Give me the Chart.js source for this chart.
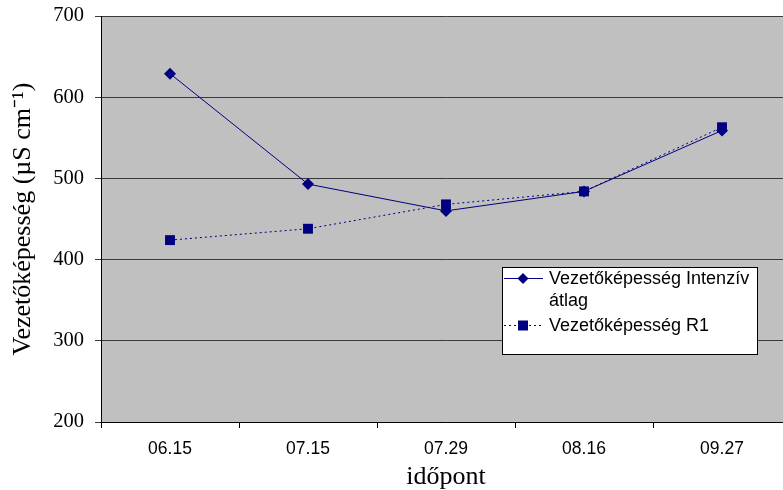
<!DOCTYPE html>
<html>
<head>
<meta charset="utf-8">
<script src="https://cdn.jsdelivr.net/npm/chart.js@4/dist/chart.umd.min.js"></script>
<style>
html,body{margin:0;padding:0;background:#fff;overflow:hidden;width:783px;height:490px;}
canvas{display:block;}
</style>
</head>
<body>
<canvas id="c" width="800" height="490"></canvas>
<script>
const categories = ['06.15', '07.15', '07.29', '08.16', '09.27'];
const intenzivAtlag = [629, 493, 460, 484, 559];
const r1 = [424, 438, 468, 484, 563];
const seriesNames = ['Vezetőképesség Intenzív átlag', 'Vezetőképesség R1'];
const yTitle = 'Vezetőképesség (µS cm⁻¹)';
const xTitle = 'időpont';

const NAVY = '#000080';

const plotBg = {
  id: 'plotBg',
  beforeDraw(chart) {
    const {ctx, chartArea: a} = chart;
    ctx.save();
    ctx.fillStyle = '#C0C0C0';
    ctx.fillRect(a.left, a.top, a.right - a.left, a.bottom - a.top);
    ctx.restore();
  }
};

function drawMarker(ctx, style, x, y) {
  ctx.fillStyle = NAVY;
  ctx.beginPath();
  if (style === 'diamond') {
    ctx.moveTo(x, y - 5.5); ctx.lineTo(x + 5.5, y); ctx.lineTo(x, y + 5.5); ctx.lineTo(x - 5.5, y);
    ctx.closePath();
  } else {
    ctx.rect(x - 5, y - 5, 10, 10);
  }
  ctx.fill();
}

const insideLegend = {
  id: 'insideLegend',
  afterDraw(chart) {
    const ctx = chart.ctx;
    ctx.save();
    const bx = 502.5, by = 267.5, bw = 255, bh = 87;
    ctx.fillStyle = '#fff';
    ctx.fillRect(bx, by, bw, bh);
    ctx.strokeStyle = '#000';
    ctx.lineWidth = 1;
    ctx.strokeRect(bx, by, bw, bh);
    ctx.font = '18px "Liberation Sans", Arial, sans-serif';
    ctx.textBaseline = 'middle';
    ctx.fillStyle = '#000';
    ctx.strokeStyle = NAVY;
    ctx.setLineDash([]);
    ctx.beginPath(); ctx.moveTo(504, 278.5); ctx.lineTo(543, 278.5); ctx.stroke();
    drawMarker(ctx, 'diamond', 523, 278.5);
    ctx.fillStyle = '#000';
    ctx.fillText('Vezetőképesség Intenzív', 549, 279);
    ctx.fillText('átlag', 549, 301);
    ctx.strokeStyle = NAVY;
    ctx.setLineDash([2, 3]);
    ctx.beginPath(); ctx.moveTo(504, 325.5); ctx.lineTo(543, 325.5); ctx.stroke();
    ctx.setLineDash([]);
    drawMarker(ctx, 'square', 523, 325.5);
    ctx.fillStyle = '#000';
    ctx.fillText('Vezetőképesség R1', 549, 326);
    ctx.restore();
  }
};

new Chart(document.getElementById('c'), {
  type: 'line',
  data: {
    labels: categories,
    datasets: [
      {
        label: seriesNames[0],
        data: intenzivAtlag,
        borderColor: NAVY,
        backgroundColor: NAVY,
        borderWidth: 1,
        pointStyle: 'rectRot',
        pointRadius: 6,
        pointHoverRadius: 6,
        pointBorderWidth: 0,
        tension: 0
      },
      {
        label: seriesNames[1],
        data: r1,
        borderColor: NAVY,
        backgroundColor: NAVY,
        borderWidth: 1,
        borderDash: [2, 3],
        pointStyle: 'rect',
        pointRadius: 7,
        pointHoverRadius: 7,
        pointBorderWidth: 0,
        tension: 0
      }
    ]
  },
  options: {
    responsive: false,
    animation: false,
    events: [],
    layout: {padding: {left: 0, right: 9, top: 16, bottom: 0}},
    plugins: {legend: {display: false}, tooltip: {enabled: false}},
    scales: {
      x: {
        type: 'category',
        offset: true,
        grid: {offset: true, drawOnChartArea: false, drawTicks: true, tickLength: 6, color: '#000'},
        border: {color: '#000', width: 1},
        ticks: {color: '#000', font: {family: '"Liberation Sans", Arial, sans-serif', size: 17.5}, padding: 11, maxRotation: 0},
        title: {display: true, text: xTitle, color: '#000', font: {family: '"Liberation Serif", "Times New Roman", serif', size: 26, lineHeight: 1}, padding: {top: 0, bottom: 0}},
        afterFit(scale) { scale.height = 68; scale.paddingLeft = 0; scale.paddingRight = 0; }
      },
      y: {
        min: 200, max: 700,
        ticks: {stepSize: 100, color: '#000', font: {family: '"Liberation Serif", "Times New Roman", serif', size: 20.5}, padding: 11},
        grid: {color: '#3a3a3a', lineWidth: 1, tickLength: 6, drawTicks: true},
        border: {color: '#000', width: 1},
        title: {display: true, text: yTitle, color: '#000', font: {family: '"Liberation Serif", "Times New Roman", serif', size: 26, lineHeight: 1}, padding: {top: 10, bottom: 0}},
        afterFit(scale) { scale.width = 101; scale.paddingTop = 0; scale.paddingBottom = 0; }
      }
    }
  },
  plugins: [plotBg, insideLegend]
});
</script>
</body>
</html>
